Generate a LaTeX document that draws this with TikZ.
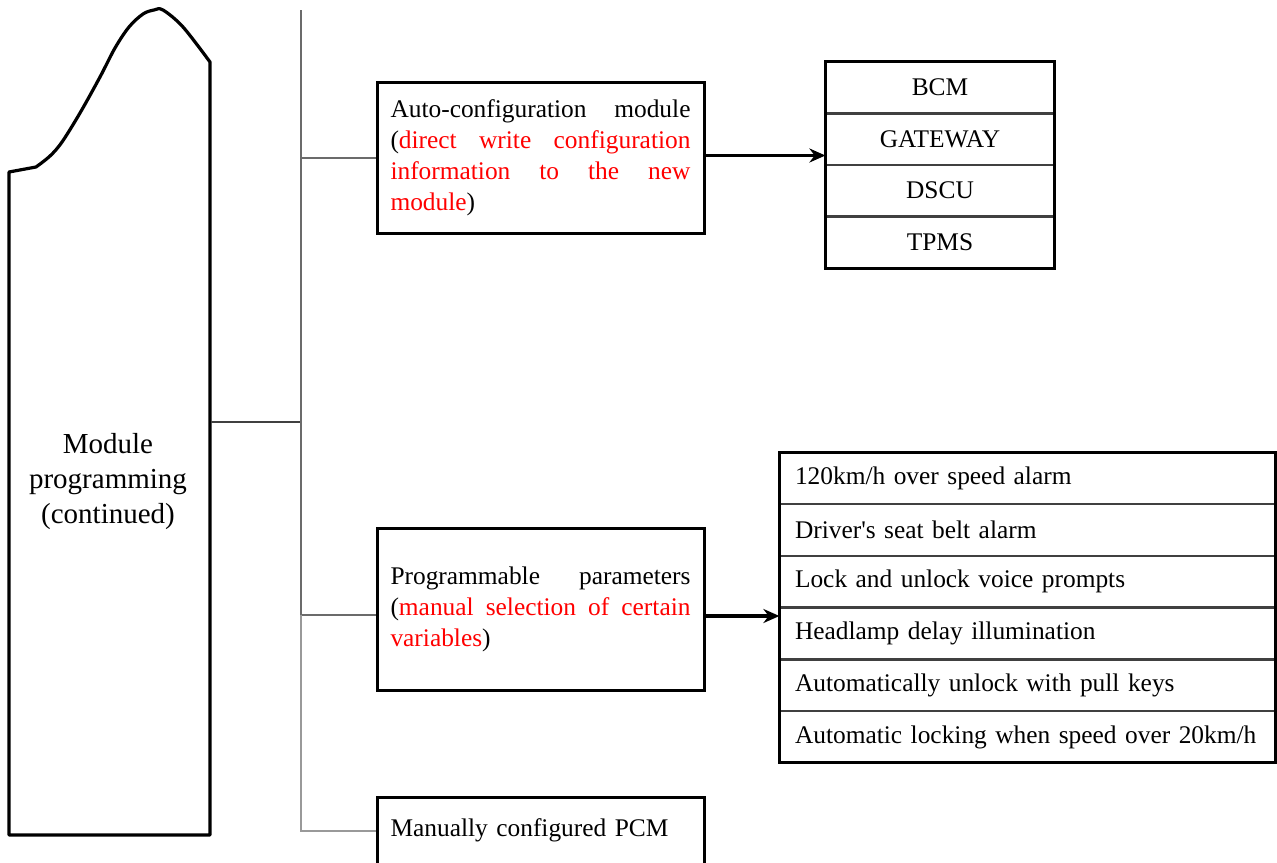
\documentclass[tikz,border=0pt]{standalone}
\usepackage{fontspec}
\setmainfont{Liberation Serif}
\usepackage{xcolor}
\usepackage{tikz}
\usetikzlibrary{arrows.meta,positioning}

\hyphenpenalty=10000
\tolerance=10000
\hbadness=10000

\tikzset{
    infobox/.style={draw=black, line width=1.5pt, inner xsep=6.75pt, text width=150pt, align=justify, font=\fontsize{12.7}{15.5}\selectfont},
    modrow/.style={draw=black!75, line width=0.6pt, minimum width=114pt, minimum height=25.2pt, inner sep=0pt, font=\fontsize{12.7}{15.5}\selectfont},
    featrow/.style={draw=black!75, line width=0.6pt, text width=232.5pt, inner xsep=7.5pt, inner ysep=0pt, minimum height=25.3pt, align=left, font=\fontsize{12.7}{15.5}\selectfont},
    link/.style={-{Stealth[length=8pt,width=7pt]}, line width=1.7pt}
}

\begin{document}
\begin{tikzpicture}[x=0.5pt,y=-0.5pt]
    \useasboundingbox (0,0) rectangle (1277,862);
    \fill[white] (0,0) rectangle (1277,862);

    % left column
    \draw[line width=1.6pt, line join=round] (210,835) -- (9,835) -- (9,172) -- (36,167) -- plot[smooth, tension=0.55] coordinates {(36,167) (50,156) (62,142) (80,113) (100,77) (115,48) (129,27) (143,14) (154,10) (163,10) (183,27) (210,62)} -- cycle;
    \node (modprog) at (108,482) [align=center, font=\fontsize{14.5}{17.5}\selectfont] {Module\\programming\\(continued)};
    \coordinate (shapeR) at (211,422);
    \coordinate (trunktop) at (301,10);

    % boxes
    \node (auto) at (540.5,157.5) [infobox, minimum height=75.5pt] {Auto-configuration module (\textcolor{red}{direct write configuration information to the new module})};
    \node (prog) at (540.5,609) [infobox, minimum height=81pt] {Programmable parameters (\textcolor{red}{manual selection of certain variables})};
    \node (manual) at (540.5,830.5) [infobox, minimum height=33.5pt, align=left] {Manually configured PCM};

    % module list
    \node (bcm) at (940,87.5) [modrow] {BCM};
    \node (gateway) [modrow, below=0pt of bcm] {GATEWAY};
    \node (dscu) [modrow, below=0pt of gateway] {DSCU};
    \node (tpms) [modrow, below=0pt of dscu] {TPMS};
    \draw[line width=1.5pt] (bcm.north west) rectangle (tpms.south east);

    % parameter list
    \node (speed) at (1027.5,478) [featrow] {120km/h over speed alarm};
    \node (belt) [featrow, below=0pt of speed] {Driver\textquotesingle s seat belt alarm};
    \node (voice) [featrow, below=0pt of belt] {Lock and unlock voice prompts};
    \node (lamp) [featrow, below=0pt of voice] {Headlamp delay illumination};
    \node (unlock) [featrow, below=0pt of lamp] {Automatically unlock with pull keys};
    \node (lock) [featrow, below=0pt of unlock] {Automatic locking when speed over 20km/h};
    \draw[line width=1.5pt] (speed.north west) rectangle (lock.south east);

    % connectors
    \draw[draw=black!75, line width=1pt] (shapeR) -- (shapeR -| trunktop);
    \draw[draw=black!58, line width=1pt] (trunktop) |- (auto.west);
    \draw[draw=black!58, line width=1pt] (trunktop) |- ([yshift=-3pt]prog.west);
    \draw[draw=black!40, line width=1pt] ([yshift=-3pt]prog.west -| trunktop) |- (manual.west);

    \draw[link] ([yshift=1pt]auto.east) -- ([yshift=1pt]auto.east -| gateway.west);
    \draw[link] ([yshift=-3.5pt]prog.east) -- ([yshift=-3.5pt]prog.east -| lamp.west);
\end{tikzpicture}
\end{document}
